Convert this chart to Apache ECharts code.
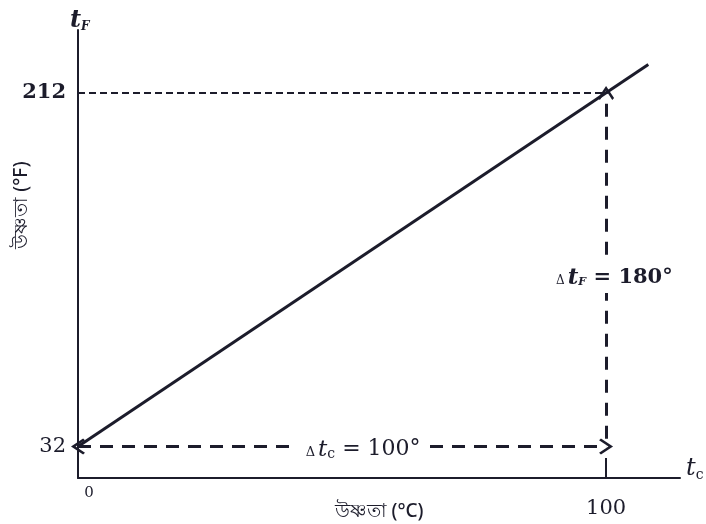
<!DOCTYPE html>
<html>
<head>
<meta charset="utf-8">
<script src="https://cdn.jsdelivr.net/npm/echarts@6/dist/echarts.min.js"></script>
<style>
  html, body { margin: 0; padding: 0; background: #fff; }
  #chart { width: 706px; height: 524px; }
</style>
</head>
<body>
<div id="chart"></div>
<script>
  // fixed points of water: (°C, °F)
  const celsius = [0, 100];
  const fahrenheit = [32, 212];
  // the drawn line runs a little past the boiling point
  const lineC = [0, 108];
  const lineF = [32, 226.4];
  const xTicks = [0, 100];
  const yTicks = [32, 212];

  const ink = '#1c1c2b';
  const serif = 'DejaVu Serif';
  // open arrow head, tip at the top
  const chevron = 'path://M0,0 L8,9 L6.2,10.4 L0,3.4 L-6.2,10.4 L-8,9 Z';

  const chart = echarts.init(document.getElementById('chart'));
  chart.setOption({
    backgroundColor: '#fff',
    animation: false,
    grid: { left: 78, right: 26, top: 30, bottom: 46, outerBoundsMode: 'none' },
    xAxis: {
      type: 'value',
      min: 0,
      max: 114,
      name: 'উষ্ণতা (°C)',
      nameLocation: 'middle',
      nameGap: 24,
      nameMoveOverlap: false,
      nameTextStyle: { color: ink, fontSize: 19, fontWeight: 500, fontFamily: 'Noto Sans' },
      splitLine: { show: false },
      axisLine: { lineStyle: { color: ink, width: 2 } },
      axisTick: { show: true, inside: true, length: 20, customValues: [celsius[1]], lineStyle: { color: ink, width: 2 } },
      axisLabel: {
        customValues: xTicks,
        margin: 8,
        formatter: v => v === 0 ? '{s|0}' : '{b|' + v + '}',
        rich: {
          s: { fontFamily: serif, fontSize: 15, color: ink, padding: [0, 0, 0, 22] },
          b: { fontFamily: serif, fontSize: 21, color: ink, padding: [12, 0, 0, 0] }
        }
      }
    },
    yAxis: {
      type: 'value',
      min: 16,
      max: 244,
      splitLine: { show: false },
      axisLine: { show: true, lineStyle: { color: ink, width: 2 } },
      axisTick: { show: false },
      axisLabel: {
        customValues: yTicks,
        margin: 12,
        formatter: v => v === 212 ? '{b|212}' : '{n|' + v + '}',
        rich: {
          b: { fontFamily: serif, fontWeight: 'bold', fontSize: 21, color: ink },
          n: { fontFamily: serif, fontSize: 21, color: ink }
        }
      }
    },
    series: [{
      type: 'line',
      data: lineC.map((c, i) => [c, lineF[i]]),
      symbol: 'none',
      silent: true,
      lineStyle: { color: ink, width: 3 },
      markLine: {
        silent: true,
        symbol: 'none',
        label: { show: false },
        data: [
          [
            { coord: [0, fahrenheit[1]], lineStyle: { color: ink, width: 2, type: [7, 4] } },
            { coord: [celsius[1], fahrenheit[1]] }
          ],
          [
            { coord: [celsius[0], fahrenheit[0]], symbol: chevron, symbolSize: [16, 14], lineStyle: { color: ink, width: 3, type: [13, 9] } },
            { coord: [celsius[1], fahrenheit[0]], symbol: chevron, symbolSize: [16, 14] }
          ],
          [
            { coord: [celsius[1], fahrenheit[0] + 4], symbol: 'none', lineStyle: { color: ink, width: 3, type: [13, 10] } },
            { coord: [celsius[1], fahrenheit[1]], symbol: chevron, symbolSize: [16, 14] }
          ]
        ]
      }
    }]
  });

  const pC = chart.convertToPixel('grid', [54, fahrenheit[0]]);
  const pF = chart.convertToPixel('grid', [celsius[1], 118]);
  const yTop = chart.convertToPixel('grid', [0, 244]);
  const xEnd = chart.convertToPixel('grid', [114, 16]);

  chart.setOption({
    graphic: [
      {
        type: 'text', x: 22, y: 205, rotation: Math.PI / 2, z: 100,
        style: { text: 'উষ্ণতা (°F)', fill: ink, font: '500 19px "Noto Sans"', align: 'center', verticalAlign: 'middle' }
      },
      {
        type: 'text', x: yTop[0] - 8, y: yTop[1] - 22, z: 100,
        style: {
          text: '{t|t}{s|F}', fill: ink,
          rich: {
            t: { fontFamily: serif, fontStyle: 'italic', fontWeight: 'bold', fontSize: 24, fill: ink, lineHeight: 26 },
            s: { fontFamily: serif, fontStyle: 'italic', fontWeight: 'bold', fontSize: 12, fill: ink, padding: [12, 0, 0, 0], lineHeight: 26 }
          }
        }
      },
      {
        type: 'text', x: xEnd[0] + 6, y: xEnd[1] - 22, z: 100,
        style: {
          text: '{t|t}{s|c}', fill: ink,
          rich: {
            t: { fontFamily: serif, fontStyle: 'italic', fontSize: 24, fill: ink, lineHeight: 26 },
            s: { fontFamily: serif, fontSize: 14, fill: ink, padding: [12, 0, 0, 0], lineHeight: 26 }
          }
        }
      },
      {
        type: 'text', x: pC[0], y: pC[1] + 3, z: 100,
        style: {
          text: '{d|Δ}{t|t}{s|c}{v| = 100°}', align: 'center', verticalAlign: 'middle',
          backgroundColor: '#fff', padding: [2, 8],
          rich: {
            d: { fontFamily: serif, fontSize: 13, fill: ink, padding: [6, 3, 0, 0] },
            t: { fontFamily: serif, fontStyle: 'italic', fontSize: 23, fill: ink },
            s: { fontFamily: serif, fontSize: 14, fill: ink, padding: [10, 0, 0, 0] },
            v: { fontFamily: serif, fontSize: 22, fill: ink }
          }
        }
      },
      {
        type: 'text', x: pF[0] - 52, y: pF[1], z: 100,
        style: {
          text: '{d|Δ}{t|t}{s|F}{v| = 180°}', verticalAlign: 'middle',
          backgroundColor: '#fff', padding: [4, 2],
          rich: {
            d: { fontFamily: serif, fontSize: 12, fill: ink, padding: [6, 3, 0, 0] },
            t: { fontFamily: serif, fontStyle: 'italic', fontWeight: 'bold', fontSize: 23, fill: ink },
            s: { fontFamily: serif, fontStyle: 'italic', fontWeight: 'bold', fontSize: 11, fill: ink, padding: [10, 0, 0, 0] },
            v: { fontFamily: serif, fontWeight: 'bold', fontSize: 21, fill: ink }
          }
        }
      }
    ]
  });
</script>
</body>
</html>
